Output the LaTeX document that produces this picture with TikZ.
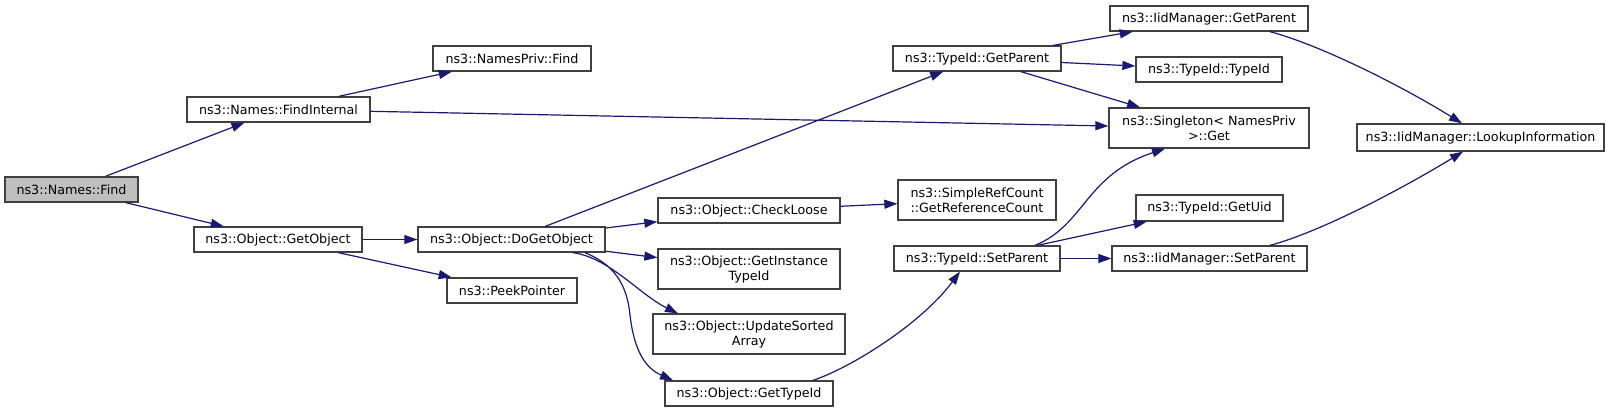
\documentclass[tikz,border=0pt]{standalone}
\usepackage{fontspec}
\setmainfont{DejaVu Sans}
\usetikzlibrary{arrows.meta,calc}
\definecolor{edgeblue}{HTML}{191970}
\definecolor{boxline}{HTML}{404040}
\definecolor{rootfill}{HTML}{BFBFBF}
\begin{document}
\begin{tikzpicture}[x=1pt,y=-1pt,
  fn/.style={draw=boxline, line width=1.3pt, fill=white, inner sep=0pt, align=center,
    font=\fontsize{12.7}{15}\selectfont, minimum height=25pt},
  fntwo/.style={fn, minimum height=40pt},
  call/.style={draw=edgeblue, line width=1.2pt, -{Triangle[length=13pt,width=9pt]}}]
\fill[white] (0,0) rectangle (1619,412);
\useasboundingbox (0,0) rectangle (1619,412);
% nodes
\node[fn, fill=rootfill, minimum width=133pt] (find) at (71.5,189.5) {ns3::Names::Find};
\node[fn, minimum width=183pt] (findint) at (278.5,109.5) {ns3::Names::FindInternal};
\node[fn, minimum width=168pt] (getobj) at (278,239.5) {ns3::Object::GetObject};
\node[fn, minimum width=158pt] (npfind) at (512,58.5) {ns3::NamesPriv::Find};
\node[fn, minimum width=187pt] (dogetobj) at (511.5,239.5) {ns3::Object::DoGetObject};
\node[fn, minimum width=130pt] (peek) at (512,290.5) {ns3::PeekPointer};
\node[fn, minimum width=182pt] (checkloose) at (749,210.5) {ns3::Object::CheckLoose};
\node[fntwo, minimum width=182pt] (getinst) at (749,269) {ns3::Object::GetInstance\\TypeId};
\node[fntwo, minimum width=192pt] (update) at (749,334) {ns3::Object::UpdateSorted\\Array};
\node[fn, minimum width=168pt] (gettypeid) at (749,393.5) {ns3::Object::GetTypeId};
\node[fn, minimum width=168pt] (tgetparent) at (977,58.5) {ns3::TypeId::GetParent};
\node[fntwo, minimum width=158pt] (srefcount) at (977,200) {ns3::SimpleRefCount\\::GetReferenceCount};
\node[fn, minimum width=166pt] (tsetparent) at (977,258.5) {ns3::TypeId::SetParent};
\node[fn, minimum width=198pt] (igetparent) at (1209,18.5) {ns3::IidManager::GetParent};
\node[fn, minimum width=146pt] (ttypeid) at (1209,69.5) {ns3::TypeId::TypeId};
\node[fntwo, minimum width=200pt] (singleton) at (1209,128) {ns3::Singleton< NamesPriv\\>::Get};
\node[fn, minimum width=147pt, minimum height=26pt] (getuid) at (1209.5,208) {ns3::TypeId::GetUid};
\node[fn, minimum width=195pt] (isetparent) at (1209.5,258.5) {ns3::IidManager::SetParent};
\node[fn, minimum width=247pt, minimum height=27pt] (lookup) at (1480.5,137.5) {ns3::IidManager::LookupInformation};
% straight connectors
\draw[call] (find) -- (findint);
\draw[call] (find) -- (getobj);
\draw[call] (findint) -- (npfind);
\draw[call] (findint) -- (singleton);
\draw[call] (getobj) -- (dogetobj);
\draw[call] (getobj) -- (peek);
\draw[call] (dogetobj) -- (tgetparent);
\draw[call] (dogetobj) -- (checkloose);
\draw[call] (dogetobj) -- (getinst);
\draw[call] (checkloose) -- (srefcount);
\draw[call] (tgetparent) -- (igetparent);
\draw[call] (tgetparent) -- (ttypeid);
\draw[call] (tgetparent) -- (singleton);
\draw[call] (tsetparent) -- (getuid);
\draw[call] (tsetparent) -- (isetparent);
% curved connectors
\draw[call] ([xshift=61.5pt]dogetobj.south) .. controls (610,258) and (640,295) .. ([xshift=-71pt]update.north);
\draw[call] ([xshift=73.5pt]dogetobj.south) .. controls (615,265) and (627,285) .. (630,315)
   .. controls (634,350) and (645,368) .. ([xshift=-76pt]gettypeid.north);
\draw[call] ([xshift=64pt]gettypeid.north) .. controls (850,368) and (920,325) .. ([xshift=-17pt]tsetparent.south);
\draw[call] ([xshift=58pt]tsetparent.north) .. controls (1085,225) and (1085,175) .. ([xshift=-44pt]singleton.south);
\draw[call] ([xshift=61pt]igetparent.south) .. controls (1320,45) and (1400,85) .. ([xshift=-18.5pt]lookup.north);
\draw[call] ([xshift=60.5pt]isetparent.north) .. controls (1320,232) and (1400,190) .. ([xshift=-17.5pt]lookup.south);
\end{tikzpicture}
\end{document}
